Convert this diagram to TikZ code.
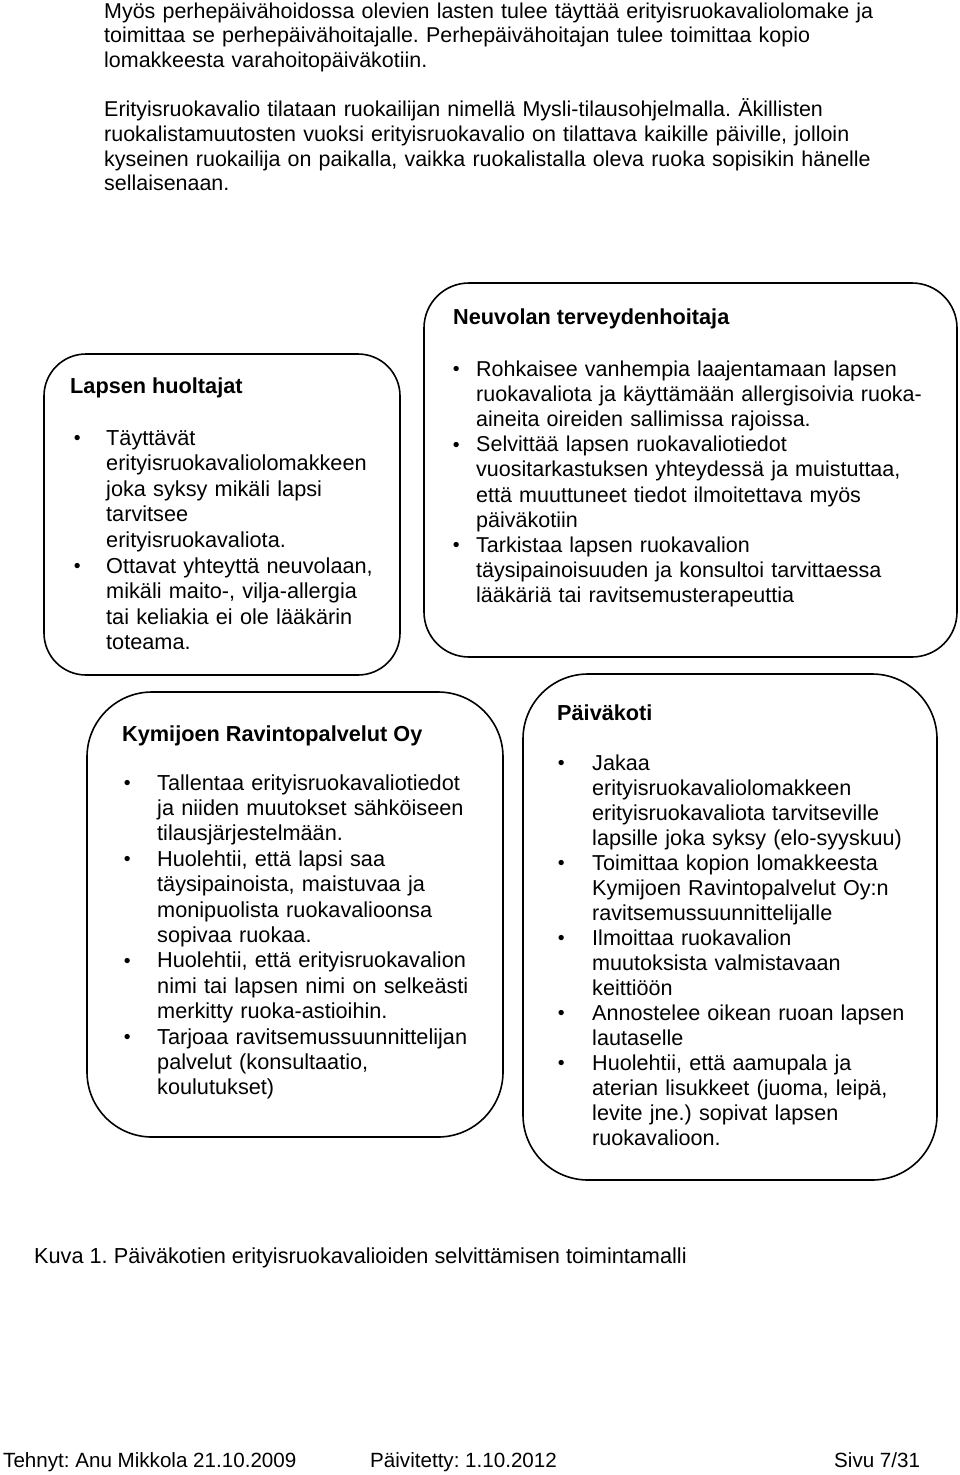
\documentclass[tikz,border=0pt]{standalone}
\usepackage{fontspec}
\setmainfont{Liberation Sans}
\begin{document}
\frenchspacing
\begin{tikzpicture}[x=1pt,y=-1pt,
  box/.style={draw=black, line width=1.6pt, rounded corners=#1, inner sep=0pt},
  para/.style={anchor=base west, inner sep=0pt, align=left, text width=#1},
  ttl/.style={anchor=base west, inner sep=0pt, font=\bfseries},
  foot/.style={anchor=base west, inner sep=0pt, font=\fontsize{20.6}{24}\selectfont}
]
\useasboundingbox (0,0) rectangle (960,1475);
\fontsize{21.7}{25.4}\selectfont
\newcommand{\bul}[1]{\leavevmode\llap{\raisebox{0.6pt}{\fontsize{19.5}{19.5}\selectfont\textbullet}\hspace{#1}}}

% intro text
\node[para=900pt, font=\fontsize{21.45}{24.7}\selectfont] (intro) at (104,18) {%
Myös perhepäivähoidossa olevien lasten tulee täyttää erityisruokavaliolomake ja\\
toimittaa se perhepäivähoitajalle. Perhepäivähoitajan tulee toimittaa kopio\\
lomakkeesta varahoitopäiväkotiin.\\[24.7pt]
Erityisruokavalio tilataan ruokailijan nimellä Mysli-tilausohjelmalla. Äkillisten\\
ruokalistamuutosten vuoksi erityisruokavalio on tilattava kaikille päiville, jolloin\\
kyseinen ruokailija on paikalla, vaikka ruokalistalla oleva ruoka sopisikin hänelle\\
sellaisenaan.};

% boxes
\node[box=42pt, minimum width=356pt, minimum height=321pt] (huoltajat) at (222,514.5) {};
\node[box=45pt, minimum width=533pt, minimum height=374pt] (neuvola) at (690.5,470) {};
\node[box=65pt, minimum width=416pt, minimum height=445pt] (kymijoki) at (295,914.5) {};
\node[box=65pt, minimum width=414pt, minimum height=506pt] (paivakoti) at (730,927) {};

% box 1
\node[ttl] (t1) at (70,393) {Lapsen huoltajat};
\node[para=300pt, font=\fontsize{21.7}{25.6}\selectfont] (l1) at (106,445) {%
\bul{25.5pt}Täyttävät\\
erityisruokavaliolomakkeen\\
joka syksy mikäli lapsi\\
tarvitsee\\
erityisruokavaliota.\\
\bul{25.5pt}Ottavat yhteyttä neuvolaan,\\
mikäli maito-, vilja-allergia\\
tai keliakia ei ole lääkärin\\
toteama.};

% box 2
\node[ttl] (t2) at (453,324) {Neuvolan terveydenhoitaja};
\node[para=480pt, font=\fontsize{21.5}{25.2}\selectfont] (l2) at (476,376) {%
\bul{16.5pt}Rohkaisee vanhempia laajentamaan lapsen\\
ruokavaliota ja käyttämään allergisoivia ruoka-\\
aineita oireiden sallimissa rajoissa.\\
\bul{16.5pt}Selvittää lapsen ruokavaliotiedot\\
vuositarkastuksen yhteydessä ja muistuttaa,\\
että muuttuneet tiedot ilmoitettava myös\\
päiväkotiin\\
\bul{16.5pt}Tarkistaa lapsen ruokavalion\\
täysipainoisuuden ja konsultoi tarvittaessa\\
lääkäriä tai ravitsemusterapeuttia};

% box 3
\node[ttl] (t3) at (122,741) {Kymijoen Ravintopalvelut Oy};
\node[para=360pt, font=\fontsize{21.7}{25.4}\selectfont] (l3) at (157,790) {%
\bul{26.5pt}Tallentaa erityisruokavaliotiedot\\
ja niiden muutokset sähköiseen\\
tilausjärjestelmään.\\
\bul{26.5pt}Huolehtii, että lapsi saa\\
täysipainoista, maistuvaa ja\\
monipuolista ruokavalioonsa\\
sopivaa ruokaa.\\
\bul{26.5pt}Huolehtii, että erityisruokavalion\\
nimi tai lapsen nimi on selkeästi\\
merkitty ruoka-astioihin.\\
\bul{26.5pt}Tarjoaa ravitsemussuunnittelijan\\
palvelut (konsultaatio,\\
koulutukset)};

% box 4
\node[ttl] (t4) at (557,720) {Päiväkoti};
\node[para=360pt, font=\fontsize{21.6}{25.0}\selectfont] (l4) at (592,770) {%
\bul{27.5pt}Jakaa\\
erityisruokavaliolomakkeen\\
erityisruokavaliota tarvitseville\\
lapsille joka syksy (elo-syyskuu)\\
\bul{27.5pt}Toimittaa kopion lomakkeesta\\
Kymijoen Ravintopalvelut Oy:n\\
ravitsemussuunnittelijalle\\
\bul{27.5pt}Ilmoittaa ruokavalion\\
muutoksista valmistavaan\\
keittiöön\\
\bul{27.5pt}Annostelee oikean ruoan lapsen\\
lautaselle\\
\bul{27.5pt}Huolehtii, että aamupala ja\\
aterian lisukkeet (juoma, leipä,\\
levite jne.) sopivat lapsen\\
ruokavalioon.};

% caption and footer
\node[anchor=base west, inner sep=0pt] (caption) at (34,1263) {Kuva 1. Päiväkotien erityisruokavalioiden selvittämisen toimintamalli};
\node[foot] (tehnyt) at (3,1467) {Tehnyt: Anu Mikkola 21.10.2009};
\node[foot] (paivitetty) at (370,1467) {Päivitetty: 1.10.2012};
\node[foot] (sivu) at (834,1467) {Sivu 7/31};
\end{tikzpicture}
\end{document}
